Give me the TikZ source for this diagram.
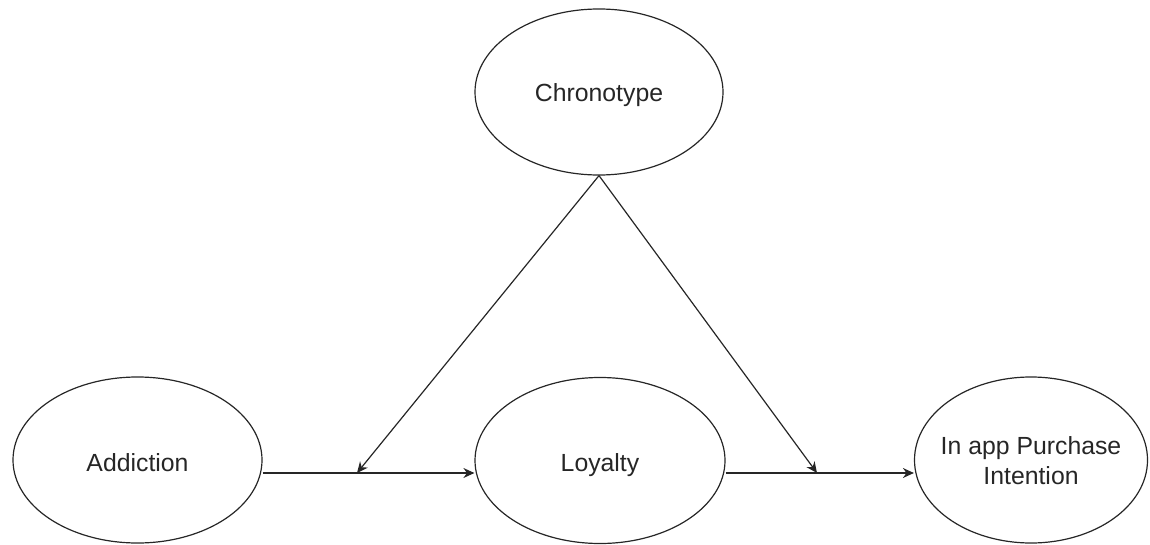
\documentclass[tikz,border=0pt]{standalone}
\usepackage{fontspec}
\setmainfont{Liberation Sans}
\usetikzlibrary{shapes.geometric,arrows.meta}
\newcommand\lowtxt[2]{\makebox[0pt]{\raisebox{#1}[0pt][0pt]{#2}}}
\begin{document}
\begin{tikzpicture}[x=0.5pt,y=-0.5pt,
  construct/.style={draw=black!85,line width=0.6pt,ellipse,inner sep=0pt,align=center,
    font=\fontsize{12.4}{15}\selectfont,text=black!85},
  conn/.style={draw=black!85,line width=0.6pt,-{Stealth[length=5.5pt,width=5pt,inset=1.8pt]}}]
\useasboundingbox (0,0) rectangle (1150,545);
\node[construct,minimum width=124pt,minimum height=83pt] (C) at (599,92) {\lowtxt{-5pt}{Chronotype}};
\node[construct,minimum width=124.5pt,minimum height=83pt] (A) at (137.5,460) {\lowtxt{-5.5pt}{Addiction}};
\node[construct,minimum width=125pt,minimum height=83pt] (L) at (600,460.5) {\lowtxt{-5.5pt}{Loyalty}};
\node[construct,minimum width=116.5pt,minimum height=83pt] (P) at (1031,460) {\lowtxt{-4.6pt}{\begin{tabular}{@{}c@{}}In app Purchase\\Intention\end{tabular}}};
\coordinate (m1) at (357,473);
\coordinate (m2) at (817,473);
\draw[conn] (A.east |- m1) -- (L.west |- m1);
\draw[conn] (L.east |- m2) -- (P.west |- m2);
\draw[conn] (C.south) -- (m1);
\draw[conn] (C.south) -- (m2);
\end{tikzpicture}
\end{document}
